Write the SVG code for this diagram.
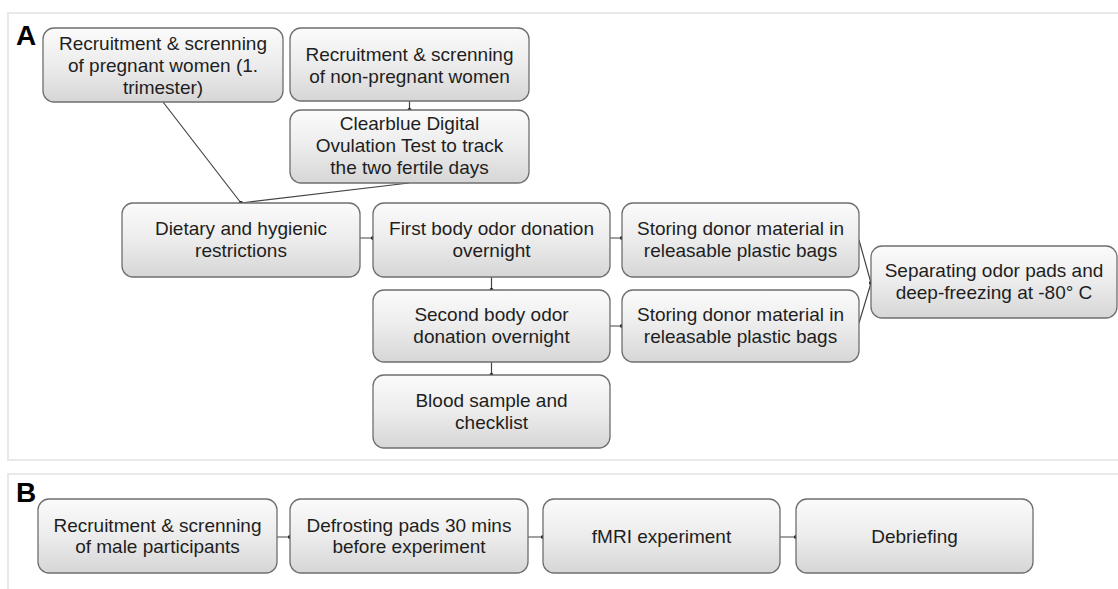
<svg xmlns="http://www.w3.org/2000/svg" width="1118" height="589" viewBox="0 0 1118 589">
<defs>
<linearGradient id="g" x1="0" y1="0" x2="0" y2="1">
<stop offset="0" stop-color="#fbfbfb"/>
<stop offset="0.5" stop-color="#ececec"/>
<stop offset="1" stop-color="#d6d6d6"/>
</linearGradient>
<style>
.frame{fill:none;stroke:#e9e9e9;stroke-width:2}
.box{fill:url(#g);stroke:#6f6f6f;stroke-width:1.3}
.t{font-family:"Liberation Sans",Arial,sans-serif;font-size:19px;fill:#1e1e1e;text-anchor:middle}
.lbl{font-family:"Liberation Sans",Arial,sans-serif;font-size:28px;font-weight:bold;fill:#000}
.c{fill:none;stroke:#444;stroke-width:1.2}
.d{fill:#111}
</style>
</defs>
<rect width="1118" height="589" fill="#fff"/>
<rect class="frame" x="8" y="13" width="1125" height="447"/>
<rect class="frame" x="8" y="474" width="1125" height="130"/>
<text class="lbl" x="16" y="45">A</text>
<text class="lbl" x="16" y="502">B</text>

<g id="connectors">
<path class="c" d="M163,102 L241,203 M409,183 L241,203"/>
<path class="c" d="M409.5,101 V110"/>
<path class="c" d="M360,238 H373 M610,238 H622 M491.5,277 V290 M610,326 H622 M491.5,362 V375"/>
<path class="c" d="M859,240 L871,283 M859,323 L871,283"/>
<path class="c" d="M277,537 H290 M528,537 H543 M780,537 H796"/>
<circle class="d" cx="241" cy="203" r="2"/>
<circle class="d" cx="409.5" cy="110" r="2"/>
<circle class="d" cx="373" cy="238" r="2"/>
<circle class="d" cx="622" cy="238" r="2"/>
<circle class="d" cx="491.5" cy="290" r="2"/>
<circle class="d" cx="622" cy="326" r="2"/>
<circle class="d" cx="491.5" cy="375" r="2"/>
<circle class="d" cx="871" cy="283" r="2"/>
<circle class="d" cx="290" cy="537" r="2"/>
<circle class="d" cx="543" cy="537" r="2"/>
<circle class="d" cx="796" cy="537" r="2"/>
</g>

<g id="n1">
<rect class="box" x="43" y="28" width="240" height="74" rx="11"/>
<text class="t" x="163" y="50">Recruitment &amp; screnning</text>
<text class="t" x="163" y="72">of pregnant women (1.</text>
<text class="t" x="163" y="94">trimester)</text>
</g>
<g id="n2">
<rect class="box" x="290" y="28" width="239" height="73" rx="11"/>
<text class="t" x="409.5" y="61">Recruitment &amp; screnning</text>
<text class="t" x="409.5" y="83">of non-pregnant women</text>
</g>
<g id="n3">
<rect class="box" x="290" y="110" width="239" height="73" rx="11"/>
<text class="t" x="409.5" y="130">Clearblue Digital</text>
<text class="t" x="409.5" y="152">Ovulation Test to track</text>
<text class="t" x="409.5" y="174">the two fertile days</text>
</g>
<g id="n4">
<rect class="box" x="122" y="203" width="238" height="74" rx="11"/>
<text class="t" x="241" y="235">Dietary and hygienic</text>
<text class="t" x="241" y="257">restrictions</text>
</g>
<g id="n5">
<rect class="box" x="373" y="203" width="237" height="74" rx="11"/>
<text class="t" x="491.5" y="235">First body odor donation</text>
<text class="t" x="491.5" y="257">overnight</text>
</g>
<g id="n6">
<rect class="box" x="622" y="203" width="237" height="74" rx="11"/>
<text class="t" x="740.5" y="235">Storing donor material in</text>
<text class="t" x="740.5" y="257">releasable plastic bags</text>
</g>
<g id="n7">
<rect class="box" x="373" y="290" width="237" height="72" rx="11"/>
<text class="t" x="491.5" y="321">Second body odor</text>
<text class="t" x="491.5" y="343">donation overnight</text>
</g>
<g id="n8">
<rect class="box" x="622" y="290" width="237" height="72" rx="11"/>
<text class="t" x="740.5" y="321">Storing donor material in</text>
<text class="t" x="740.5" y="343">releasable plastic bags</text>
</g>
<g id="n9">
<rect class="box" x="871" y="246" width="246" height="72" rx="11"/>
<text class="t" x="994" y="277">Separating odor pads and</text>
<text class="t" x="994" y="299">deep-freezing at -80° C</text>
</g>
<g id="n10">
<rect class="box" x="373" y="375" width="237" height="73" rx="11"/>
<text class="t" x="491.5" y="407">Blood sample and</text>
<text class="t" x="491.5" y="429">checklist</text>
</g>

<g id="b1">
<rect class="box" x="38" y="499" width="239" height="74" rx="11"/>
<text class="t" x="157.5" y="532">Recruitment &amp; screnning</text>
<text class="t" x="157.5" y="553">of male participants</text>
</g>
<g id="b2">
<rect class="box" x="290" y="499" width="238" height="74" rx="11"/>
<text class="t" x="409" y="532">Defrosting pads 30 mins</text>
<text class="t" x="409" y="553">before experiment</text>
</g>
<g id="b3">
<rect class="box" x="543" y="499" width="237" height="74" rx="11"/>
<text class="t" x="661.5" y="543">fMRI experiment</text>
</g>
<g id="b4">
<rect class="box" x="796" y="499" width="237" height="74" rx="11"/>
<text class="t" x="914.5" y="543">Debriefing</text>
</g>
</svg>
